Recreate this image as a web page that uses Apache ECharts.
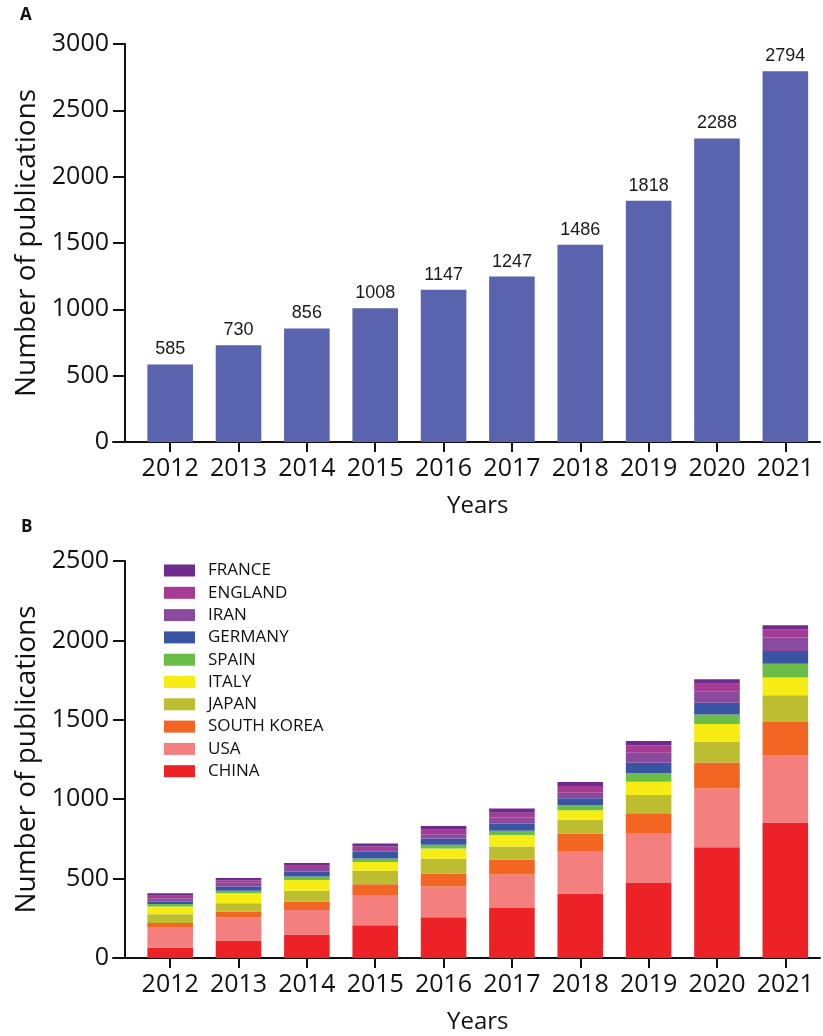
<!DOCTYPE html>
<html><head><meta charset="utf-8">
<script src="https://cdn.jsdelivr.net/npm/echarts@6/dist/echarts.min.js"></script>
<style>html,body{margin:0;padding:0;background:#fff}#c{width:823px;height:1036px}</style>
</head><body><div id="c"></div>
<script>
const years = ['2012','2013','2014','2015','2016','2017','2018','2019','2020','2021'];
const totals = [585,730,856,1008,1147,1247,1486,1818,2288,2794];
const yTicksA = [0,500,1000,1500,2000,2500,3000];
const yTicksB = [0,500,1000,1500,2000,2500];

const china      = [64,110,148,206,256,315,405,473,697,854];
const usa        = [126,146,155,191,195,211,264,314,371,421];
const southKorea = [31,36,52,67,80,93,113,125,163,211];
const japan      = [54,52,69,86,94,83,88,114,130,168];
const italy      = [50,63,67,54,65,72,61,84,113,113];
const spain      = [15,17,23,23,23,27,33,54,60,86];
const germany    = [15,27,29,42,39,44,42,65,74,81];
const iran       = [21,23,23,17,28,39,35,63,69,84];
const england    = [16,16,15,16,27,30,42,48,50,50];
const france     = [15,14,17,19,24,27,25,27,29,28];

const countries = ['CHINA','USA','SOUTH KOREA','JAPAN','ITALY','SPAIN','GERMANY','IRAN','ENGLAND','FRANCE'];
const countryData = [china,usa,southKorea,japan,italy,spain,germany,iran,england,france];
const countryColors = ['#EC2227','#F47F7F','#F26522','#BDBD32','#F7EC13','#6BBE45','#3A54A4','#8A4B9E','#A63B94','#6E2A8C'];

const FONT = 'Open Sans';
const black = '#111';

function catAxis(grid){
  return {type:'category', gridIndex:grid, data:years,
    axisLine:{show:false},
    axisTick:{show:true, alignWithLabel:true, interval:0, length:10, lineStyle:{color:black,width:2}},
    axisLabel:{interval:0, fontFamily:FONT, fontSize:25, color:black, margin:14},
    name:'Years', nameLocation:'middle', nameGap:52,
    nameTextStyle:{fontFamily:FONT, fontSize:24, color:black}};
}
function extX(grid){
  return {type:'value', gridIndex:grid, min:0, max:1,
    axisLine:{show:true, lineStyle:{color:black,width:2}},
    axisTick:{show:false}, axisLabel:{show:false}, splitLine:{show:false}};
}
function valAxis(grid, ticks){
  return {type:'value', gridIndex:grid, min:ticks[0], max:ticks[ticks.length-1], interval:ticks[1]-ticks[0],
    offset:11,
    axisLine:{show:true, lineStyle:{color:black,width:2}},
    axisTick:{show:true, length:12, lineStyle:{color:black,width:2}},
    axisLabel:{fontFamily:FONT, fontSize:25, color:black, margin:16, formatter:(v)=>String(v)},
    splitLine:{show:false},
    name:'Number of publications', nameLocation:'middle', nameGap:79,
    nameTextStyle:{fontFamily:FONT, fontSize:28, color:black}};
}
function hideY(grid){ return {type:'value', gridIndex:grid, show:false}; }

const series = [{
  type:'bar', xAxisIndex:0, yAxisIndex:0, data:totals, barWidth:'66.7%',
  itemStyle:{color:'#5A63AD'},
  label:{show:true, position:'top', distance:6, fontFamily:'Liberation Sans', fontSize:18, color:'#1a1a1a'}
}];
countries.forEach((c,i)=>{
  series.push({type:'bar', name:c, stack:'b', xAxisIndex:2, yAxisIndex:2, data:countryData[i],
    barWidth:'66.7%', itemStyle:{color:countryColors[i]}});
});

const option = {
  animation:false,
  title:[
    {text:'A', left:20, top:7, padding:0, textStyle:{fontFamily:FONT, fontSize:17, fontWeight:'bold', color:black}},
    {text:'B', left:21, top:519, padding:0, textStyle:{fontFamily:FONT, fontSize:17, fontWeight:'bold', color:black}}
  ],
  legend:{orient:'vertical', left:159, top:557, icon:'rect', itemWidth:31, itemHeight:12, itemGap:5.3,
    data:countries.slice().reverse(),
    textStyle:{fontFamily:FONT, fontSize:17, color:black, padding:[0,0,0,8]}},
  grid:[
    {left:136, right:3.5, top:44, bottom:594},
    {left:113, right:3, top:44, bottom:594},
    {left:136, right:3.5, top:561, bottom:78},
    {left:113, right:3, top:561, bottom:78}
  ],
  xAxis:[catAxis(0), extX(1), catAxis(2), extX(3)],
  yAxis:[valAxis(0,yTicksA), hideY(1), valAxis(2,yTicksB), hideY(3)],
  series:series
};
const chart = echarts.init(document.getElementById('c'), null, {renderer:'canvas'});
chart.setOption(option);
</script></body></html>
